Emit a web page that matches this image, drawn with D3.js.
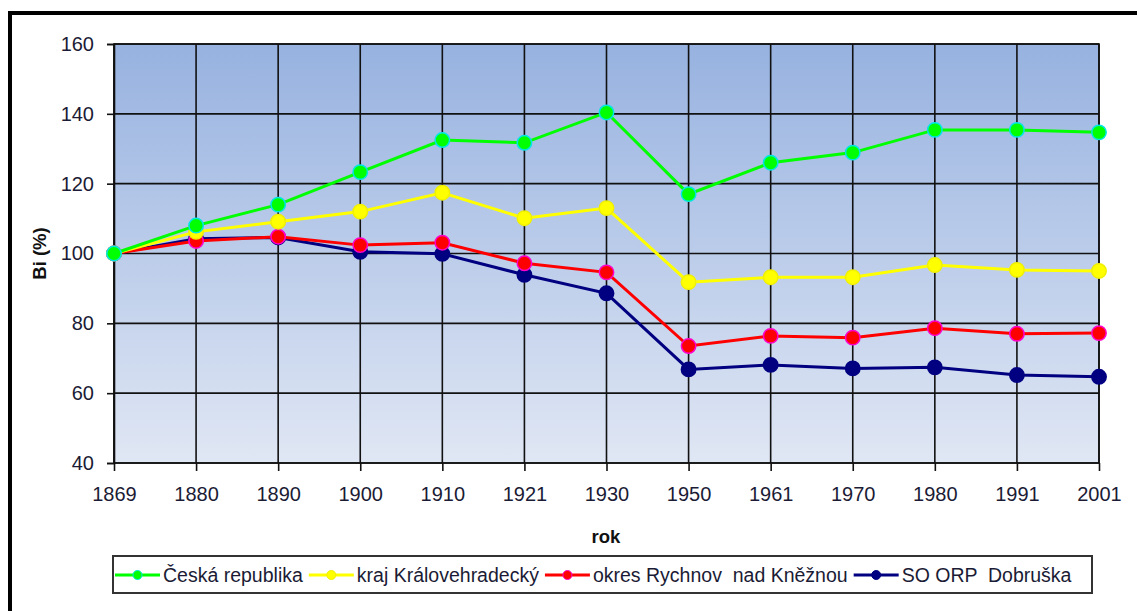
<!DOCTYPE html>
<html lang="cs">
<head>
    <meta charset="UTF-8">
    <title>Bi (%)</title>
    <style>
        body { margin: 0; background: #fff; font-family: Arial, "Liberation Sans", sans-serif; }
        .grid line { stroke: #111; stroke-width: 1.6px; }
        .axis text { fill: #1b1b35; font-size: 20px; font-family: Arial, "Liberation Sans", sans-serif; }
        .axis path, .axis line { stroke: #111; stroke-width: 1.6px; }
        .title { font-weight: bold; font-size: 18.5px; fill: #111; }
        .legend text { font-size: 19.5px; fill: #1b1b35; }
    </style>
</head>
<body>
<svg width="1137" height="611"></svg>
<script src="https://d3js.org/d3.v7.min.js"></script>
<script>
const years = ["1869", "1880", "1890", "1900", "1910", "1921", "1930", "1950", "1961", "1970", "1980", "1991", "2001"];
const yTicks = [40, 60, 80, 100, 120, 140, 160];

const ceskaRepublika = [100, 108, 114, 123.3, 132.5, 131.7, 140.4, 117, 126, 128.9, 135.4, 135.4, 134.7];
const krajKralovehradecky = [100, 106.2, 109.1, 112, 117.4, 110.1, 113, 91.8, 93.2, 93.2, 96.7, 95.3, 95];
const okresRychnov = [100, 103.6, 104.8, 102.4, 103.1, 97.2, 94.6, 73.5, 76.4, 75.9, 78.6, 77, 77.2];
const soOrpDobruska = [100, 104.2, 104.6, 100.5, 99.9, 93.9, 88.6, 66.8, 68.1, 67.1, 67.4, 65.2, 64.7];

const seriesNames = ["Česká republika", "kraj Královehradecký", "okres Rychnov  nad Kněžnou", "SO ORP  Dobruška"];
const seriesFill = ["#00ff00", "#ffff00", "#ff0000", "#000080"];
const seriesRing = ["#00e5e5", "#f0f000", "#ff00cc", "#000080"];
const seriesValues = [ceskaRepublika, krajKralovehradecky, okresRychnov, soOrpDobruska];

const svg = d3.select("svg");
const plotLeft = 114, plotRight = 1099, plotTop = 44, plotBottom = 463;

// outer frame
svg.append("path")
    .attr("d", `M10,611 V13 H1137`)
    .attr("fill", "none")
    .attr("stroke", "#000")
    .attr("stroke-width", 4);

const x = d3.scalePoint().domain(years).range([plotLeft, plotRight]);
const y = d3.scaleLinear().domain([40, 160]).range([plotBottom, plotTop]);

const defs = svg.append("defs");
const grad = defs.append("linearGradient")
    .attr("id", "bg").attr("x1", 0).attr("y1", 0).attr("x2", 0).attr("y2", 1);
grad.append("stop").attr("offset", "0%").attr("stop-color", "#97b2e0");
grad.append("stop").attr("offset", "100%").attr("stop-color", "#e0e7f4");

svg.append("rect")
    .attr("x", plotLeft).attr("y", plotTop)
    .attr("width", plotRight - plotLeft).attr("height", plotBottom - plotTop)
    .attr("fill", "url(#bg)");

const grid = svg.append("g").attr("class", "grid");
grid.selectAll(".h").data(yTicks).join("line").attr("class", "h")
    .attr("x1", plotLeft).attr("x2", plotRight)
    .attr("y1", d => y(d)).attr("y2", d => y(d));
grid.selectAll(".v").data(years).join("line").attr("class", "v")
    .attr("x1", d => x(d)).attr("x2", d => x(d))
    .attr("y1", plotTop).attr("y2", plotBottom);

svg.append("rect")
    .attr("x", plotLeft).attr("y", plotTop)
    .attr("width", plotRight - plotLeft).attr("height", plotBottom - plotTop)
    .attr("fill", "none").attr("stroke", "#111").attr("stroke-width", 1.6);

svg.append("g")
    .attr("class", "axis")
    .attr("transform", `translate(${plotLeft},0)`)
    .call(d3.axisLeft(y).tickValues(yTicks).tickSize(7).tickPadding(13))
    .call(g => g.select(".domain").attr("stroke-width", 2.5));

svg.append("g")
    .attr("class", "axis")
    .attr("transform", `translate(0,${plotBottom})`)
    .call(d3.axisBottom(x).tickSize(8).tickPadding(16))
    .call(g => g.select(".domain").remove());

svg.append("text")
    .attr("class", "title")
    .attr("transform", `translate(46,${(plotTop + plotBottom) / 2}) rotate(-90)`)
    .attr("text-anchor", "middle")
    .text("Bi (%)");

svg.append("text")
    .attr("class", "title")
    .attr("x", 606).attr("y", 543)
    .attr("text-anchor", "middle")
    .text("rok");

const line = d3.line().x((d, i) => x(years[i])).y(d => y(d));

// last series drawn first, so the national line sits on top
d3.range(seriesValues.length).reverse().forEach(s => {
    const vals = seriesValues[s];
    const g = svg.append("g");
    g.append("path")
        .attr("d", line(vals))
        .attr("fill", "none")
        .attr("stroke", seriesFill[s])
        .attr("stroke-width", 3);
    g.selectAll("circle").data(vals).join("circle")
        .attr("cx", (d, i) => x(years[i]))
        .attr("cy", d => y(d))
        .attr("r", 7.2)
        .attr("fill", seriesFill[s])
        .attr("stroke", seriesRing[s])
        .attr("stroke-width", 1.5);
});

// legend
const legend = svg.append("g").attr("class", "legend");
legend.append("rect")
    .attr("x", 113).attr("y", 556)
    .attr("width", 979).attr("height", 37)
    .attr("fill", "#fff").attr("stroke", "#333").attr("stroke-width", 2);

let lx = 115;
seriesNames.forEach((name, s) => {
    const item = legend.append("g").attr("transform", `translate(${lx},575)`);
    item.append("line")
        .attr("x1", 0).attr("x2", 45)
        .attr("stroke", seriesFill[s]).attr("stroke-width", 3);
    item.append("circle")
        .attr("cx", 22.5).attr("r", 4.5)
        .attr("fill", seriesFill[s]).attr("stroke", seriesRing[s]).attr("stroke-width", 1);
    const t = item.append("text")
        .attr("x", 48).attr("y", 7)
        .style("white-space", "pre")
        .text(name);
    lx += 48 + t.node().getComputedTextLength() + 6;
});
</script>
</body>
</html>
